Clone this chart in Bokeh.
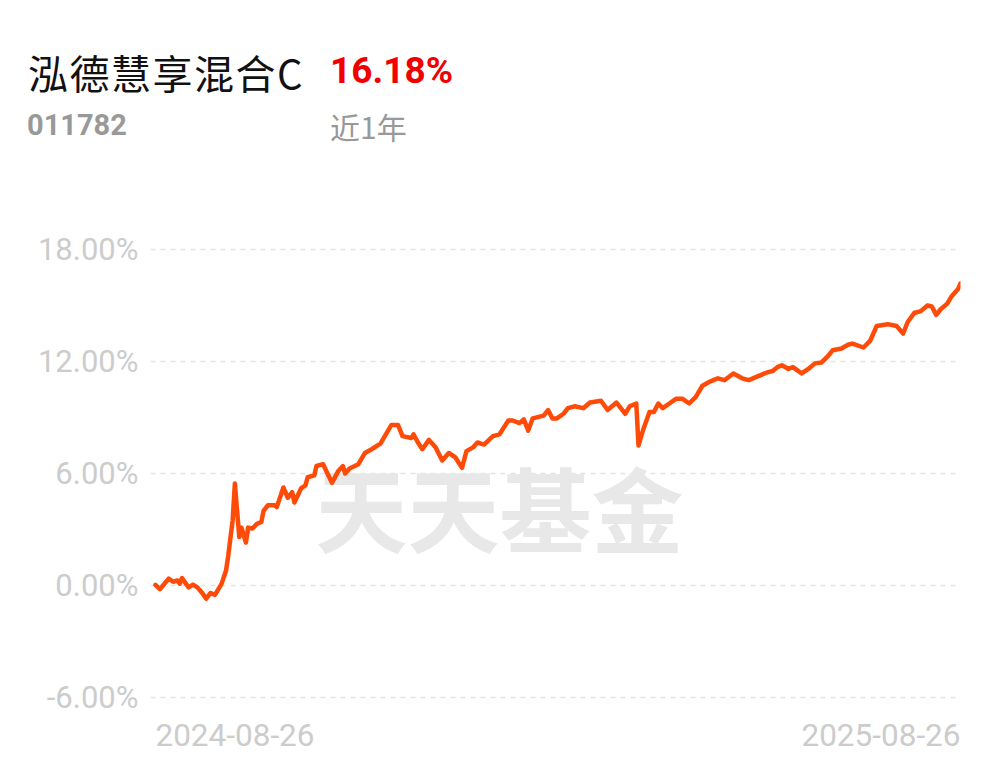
import pandas as pd
from bokeh.plotting import figure
from bokeh.layouts import column
from bokeh.models import Label, Range1d, FixedTicker, Div
from bokeh.embed import file_html
from bokeh.resources import INLINE

# ---------------- data ----------------
fund_name = "泓德慧享混合C"
fund_code = "011782"
period_return = "16.18%"
period_label = "近1年"
watermark_text = "天天基金"
start_date = "2024-08-26"
end_date = "2025-08-26"
x_tick_labels = ["2024-08-26", "2025-08-26"]
y_ticks = [-6, 0, 6, 12, 18]
y_tick_labels = ["-6.00%", "0.00%", "6.00%", "12.00%", "18.00%"]

# days since start date
day_offsets = [0, 2, 6, 8, 10, 11, 12, 15, 17, 19, 21, 23, 25, 27, 30, 32, 33, 35, 36, 38,
               39, 41, 42, 44, 46, 48, 49, 51, 54, 55, 58, 60, 62, 63, 66, 68, 69, 72, 73, 76,
               78, 80, 83, 85, 86, 88, 92, 95, 98, 102, 107, 110, 112, 116, 117, 119, 121, 124, 127, 130,
               133, 136, 139, 141, 144, 146, 149, 153, 156, 160, 162, 165, 167, 169, 171, 176, 178, 180, 182, 185,
               187, 190, 194, 197, 202, 205, 209, 211, 213, 215, 218, 219, 221, 224, 226, 228, 230, 233, 236, 239,
               242, 245, 248, 251, 253, 255, 258, 262, 266, 269, 273, 277, 280, 282, 284, 287, 289, 293, 296, 299,
               302, 305, 307, 311, 314, 316, 321, 324, 327, 332, 336, 339, 341, 344, 347, 350, 352, 354, 356, 359,
               361, 364, 365]
# cumulative return, %
returns_pct = [0.03, -0.2, 0.37, 0.2, 0.27, 0.1, 0.4, -0.1, 0.05, -0.1, -0.37, -0.7, -0.4, -0.5, 0.1, 0.8, 1.6, 3.5, 5.46, 2.6,
               3.1, 2.3, 3.1, 3.05, 3.3, 3.4, 4.0, 4.3, 4.3, 4.2, 5.25, 4.7, 5.0, 4.45, 5.2, 5.36, 5.8, 5.9, 6.4, 6.5,
               6.0, 5.5, 6.15, 6.4, 6.0, 6.27, 6.5, 7.1, 7.3, 7.6, 8.6, 8.6, 8.0, 7.9, 8.1, 7.66, 7.3, 7.8, 7.4, 6.7,
               7.1, 6.86, 6.3, 7.2, 7.4, 7.66, 7.55, 8.0, 8.1, 8.84, 8.84, 8.7, 8.9, 8.3, 8.95, 9.1, 9.4, 8.95, 8.95, 9.2,
               9.5, 9.6, 9.5, 9.8, 9.9, 9.4, 9.8, 9.5, 9.2, 9.6, 9.75, 7.5, 8.3, 9.3, 9.3, 9.75, 9.5, 9.75, 10.0, 10.0,
               9.75, 10.1, 10.7, 10.9, 11.0, 11.1, 11.0, 11.36, 11.1, 11.0, 11.2, 11.4, 11.5, 11.7, 11.8, 11.6, 11.7, 11.36, 11.6, 11.9,
               11.95, 12.3, 12.6, 12.7, 12.9, 12.96, 12.75, 13.1, 13.9, 14.0, 13.9, 13.5, 14.1, 14.6, 14.7, 15.0, 14.95, 14.5, 14.8, 15.1,
               15.5, 15.9, 16.18]

t0 = pd.Timestamp(start_date)
t1 = pd.Timestamp(end_date)
dates = [t0 + pd.Timedelta(days=d) for d in day_offsets]

W = 1000
HEAD_H = 160
CH_H = 600
FL, FR, FT = 150, 960, 225 - HEAD_H  # chart frame edges (in chart figure px)


def y_of(py):
    """page pixel -> % value (0% at page y 585, 6% per 112 px)"""
    return (585 - py) * 6 / 112


# ---------------- header ----------------
def span(left, top, size, txt, font, color, weight="normal", extra=""):
    return (f'<span style="position:absolute;left:{left}px;top:{top}px;font-size:{size}px;'
            f'line-height:1;white-space:nowrap;font-family:\'{font}\';color:{color};'
            f'font-weight:{weight};{extra}">{txt}</span>')


head_html = (
    f'<div style="position:relative;width:{W}px;height:{HEAD_H}px;background:white;">'
    + span(28, 52, 40, fund_name, "Noto Sans CJK SC", "#111111", extra="letter-spacing:1.5px;")
    + span(330, 52, 37, period_return, "Roboto", "#f00000", weight="bold")
    + span(27, 111, 29, fund_code, "Roboto", "#999999", weight="bold")
    + span(330, 111, 30, period_label, "Noto Sans CJK SC", "#999999")
    + '</div>'
)
head = Div(text=head_html, width=W, height=HEAD_H, margin=(0, 0, 0, 0))

# ---------------- chart figure ----------------
p = figure(width=W, height=CH_H, x_axis_type="datetime",
           output_backend="svg", toolbar_location=None,
           x_range=Range1d(t0 - pd.Timedelta(hours=54), t1),
           y_range=Range1d(y_of(760), y_of(225)),
           min_border_left=FL, min_border_right=W - FR,
           min_border_top=FT, min_border_bottom=0)
p.outline_line_color = None
p.background_fill_color = "white"
p.border_fill_color = "white"

p.xaxis.visible = False
p.xgrid.visible = False

yax = p.yaxis[0]
yax.ticker = FixedTicker(ticks=y_ticks)
yax.major_label_overrides = {t: l for t, l in zip(y_ticks, y_tick_labels)}
yax.axis_line_color = None
yax.major_tick_line_color = None
yax.minor_tick_line_color = None
yax.major_tick_out = 0
yax.major_tick_in = 0
yax.major_label_standoff = 12
yax.major_label_text_font = "Roboto"
yax.major_label_text_font_size = "31px"
yax.major_label_text_color = "#cccccc"

p.ygrid.ticker = FixedTicker(ticks=y_ticks)
p.ygrid.grid_line_color = "#e4e4e4"
p.ygrid.grid_line_dash = "5 5"
p.ygrid.grid_line_width = 1.5

# watermark
p.add_layout(Label(x=t0 + pd.Timedelta(days=156), y=y_of(505), text=watermark_text,
                   text_align="center", text_baseline="middle",
                   text_font="Noto Sans CJK SC", text_font_style="bold",
                   text_font_size="92px", text_color="#e8e8e8", level="underlay"))

p.line(dates, returns_pct, line_color="#ff4a08", line_width=4.5,
       line_join="round", line_cap="round")

# date labels at both ends of the x range
p.add_layout(Label(x=t0, y=y_of(734), text=x_tick_labels[0], text_align="left",
                   text_baseline="middle", text_font="Roboto", text_font_size="31.5px",
                   text_color="#cccccc"))
p.add_layout(Label(x=t1, y=y_of(734), text=x_tick_labels[1], text_align="right",
                   text_baseline="middle", text_font="Roboto", text_font_size="31.5px",
                   text_color="#cccccc"))

layout = column(head, p, spacing=0)
open("out.html", "w").write(file_html(layout, INLINE))
